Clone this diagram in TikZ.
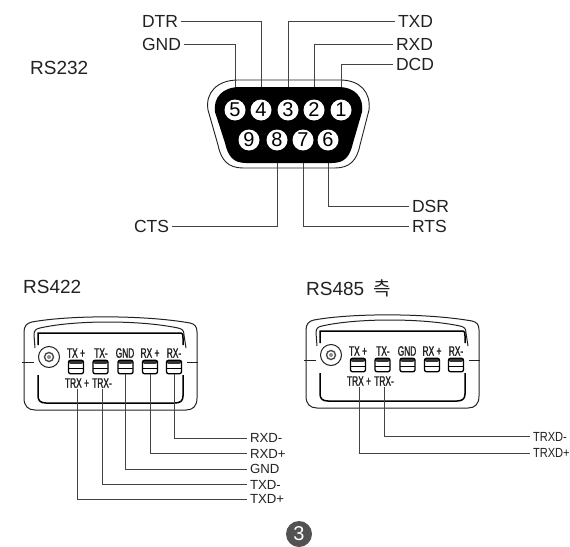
\documentclass[tikz,border=0pt]{standalone}
\usepackage{graphicx}
\usepackage{fontspec}
\setmainfont{Liberation Sans}
\newfontfamily\cjkf{Noto Sans CJK KR}
\newfontfamily\narrowf[FakeStretch=0.62,FakeBold=1.5]{Liberation Sans}
\pgfdeclarelayer{background}
\pgfsetlayers{background,main}
\definecolor{ink}{HTML}{222222}
\tikzset{
  x=1pt,y=-1pt,
  wire/.style={draw=ink!85!white,line width=0.9pt},
  shell/.style={draw=ink,line width=1pt,line join=round},
  thick shell/.style={draw=black,line width=1.5pt},
  lab/.style={font=\fontsize{17.5}{19}\selectfont,text=ink,inner sep=0pt,outer sep=3pt},
  title/.style={font=\fontsize{19}{21}\selectfont,text=ink,inner sep=0pt,anchor=west},
  small/.style={font=\fontsize{13.2}{15}\selectfont,text=ink,inner sep=0pt,outer sep=3pt,anchor=west},
  pin/.style={circle,fill=white,draw=none,minimum size=21pt,inner sep=0pt,text=black,font=\fontsize{20}{21}\selectfont},
  termlab/.style={font=\narrowf\fontsize{13.5}{15}\selectfont,text=ink,inner sep=0pt,outer sep=1pt},
  term/.style={draw=black,line width=1.3pt,fill=white,rounded corners=2pt,minimum width=15pt,minimum height=13.5pt,inner sep=0pt,
    path picture={\fill[black!80] (path picture bounding box.north west) rectangle ([yshift=-3.5pt]path picture bounding box.north east);
    \draw[black,line width=.8pt] ([yshift=-8.5pt]path picture bounding box.north west) -- ([yshift=-8.5pt]path picture bounding box.north east);}},
  badge/.style={circle,fill=black!68,text=white,minimum size=26pt,inner sep=0pt,font=\fontsize{20}{22}\selectfont},
  device/.pic={
    \draw[shell] (24,332) .. controls (24,326) and (27,323) .. (32,322) .. controls (70,315) and (145,315) .. (190,323) .. controls (195,324) and (197,327) .. (197,332)
      -- (197,398) .. controls (197,406) and (193,410) .. (186,410) -- (35,410) .. controls (28,410) and (24,406) .. (24,398) -- cycle;
    \draw[shell] (35,348) -- (34,335) .. controls (34,330) and (36,329) .. (40,328) .. controls (75,320) and (140,320) .. (178,328) .. controls (182,329) and (184,330) .. (184,335) -- (186,348);
    \draw[thick shell] (38,345) -- (38,336) -- (38,333) -- (181,333) .. controls (183,333) and (183,335) .. (183,338) -- (183,345);
    \draw[thick shell] (38,375) -- (38,396) .. controls (38,401) and (41,403) .. (46,403) -- (175,403) .. controls (180,403) and (183,401) .. (183,396) -- (183,375);
    \draw[shell] (22,362) -- (34,362);
    \draw[shell] (187,362) -- (198,362);
    \draw[shell] (49,357) circle[radius=10.5];
    \draw[black!70,line width=1.4pt] (49,357) circle[radius=4.5];
    \fill[black!45] (49,357) circle[radius=2];
    \node[term] (-t1) at (76,367) {};
    \node[term] (-t2) at (100.5,367) {};
    \node[term] (-t3) at (125.5,367) {};
    \node[term] (-t4) at (150,367) {};
    \node[term] (-t5) at (174,367) {};
    \node[termlab] (-l1) at (76,353) {TX$\,$+};
    \node[termlab] (-l2) at (101,353) {TX-};
    \node[termlab] (-l3) at (125,353) {GND};
    \node[termlab] (-l4) at (150,353) {RX$\,$+};
    \node[termlab] (-l5) at (174,353) {RX-};
    \node[termlab] (-r1) at (77,383) {TRX$\,$+};
    \node[termlab] (-r2) at (102,383) {TRX-};
  }
}
\begin{document}
\begin{tikzpicture}
\useasboundingbox (0,0) rectangle (570,546);
% --- RS232 connector
\begin{pgfonlayer}{background}
\fill[white] (0,0) rectangle (570,546);
\draw[shell,line width=.9pt] (238,80) -- (340,80) .. controls (360,80) and (371,92) .. (369,110) -- (360,145) .. controls (357,160) and (350,168) .. (335,168) -- (243,168) .. controls (228,168) and (221,160) .. (218,145) -- (208,110) .. controls (205,92) and (218,80) .. (238,80) -- cycle;
\end{pgfonlayer}
\fill[black] (240,87) -- (338,87) .. controls (355,87) and (364,97) .. (362,112) -- (353,143) .. controls (350,156) and (345,163) .. (332,163) -- (246,163) .. controls (233,163) and (228,156) .. (225,143) -- (215,112) .. controls (213,97) and (223,87) .. (240,87) -- cycle;
\node[pin] (p5) at (235,110) {5};
\node[pin] (p4) at (261,110) {4};
\node[pin] (p3) at (288,110) {3};
\node[pin] (p2) at (314,110) {2};
\node[pin] (p1) at (341,110) {1};
\node[pin] (p9) at (249,140) {9};
\node[pin] (p8) at (277,140) {8};
\node[pin] (p7) at (303,140) {7};
\node[pin] (p6) at (328,140) {6};
\node[title] (t232) at (30,68) {RS232};
\node[lab,anchor=west] (dtr) at (139,21) {DTR};
\node[lab,anchor=west] (gnd) at (139,44) {GND};
\node[lab,anchor=west] (txd) at (395,21) {TXD};
\node[lab,anchor=west] (rxd) at (393,44) {RXD};
\node[lab,anchor=west] (dcd) at (393,64) {DCD};
\node[lab,anchor=west] (dsr) at (409,206) {DSR};
\node[lab,anchor=west] (rts) at (409,226) {RTS};
\node[lab,anchor=west] (cts) at (131,226) {CTS};
\begin{pgfonlayer}{background}
\draw[wire] (dtr.east) -| (p4.north);
\draw[wire] (gnd.east) -| (p5.north);
\draw[wire] (txd.west) -| (p3.north);
\draw[wire] (rxd.west) -| (p2.north);
\draw[wire] (dcd.west) -| (p1.north);
\draw[wire] (cts.east) -| (p8.south);
\draw[wire] (rts.west) -| (p7.south);
\draw[wire] (dsr.west) -| (p6.south);
\end{pgfonlayer}
% --- RS422
\node[title] (t422) at (23,287) {RS422};
\pic (L) at (0,0) {device};
\node[small] (a1) at (247,438) {RXD-};
\node[small] (a2) at (247,453.5) {RXD+};
\node[small] (a3) at (247,469) {GND};
\node[small] (a4) at (247,484.5) {TXD-};
\node[small] (a5) at (247,499) {TXD+};
\draw[wire] (L-t5.south) |- (a1.west);
\draw[wire] (L-t4.south) |- (a2.west);
\draw[wire] (L-t3.south) |- (a3.west);
\draw[wire] (L-r2.south) |- (a4.west);
\draw[wire] (L-r1.south) |- (a5.west);
% --- RS485
\node[title] (t485) at (306,288) {RS485\hspace{9pt}{\cjkf 측}};
\pic (R) at (282,-2) {device};
\node[small] (b1) at (530,436.5) {\scalebox{0.84}[1]{TRXD-}};
\node[small] (b2) at (530,453) {\scalebox{0.84}[1]{TRXD+}};
\draw[wire] (R-r2.south) |- (b1.west);
\draw[wire] (R-r1.south) |- (b2.west);
% --- page badge
\node[badge] (page) at (299,534) {3};
\end{tikzpicture}
\end{document}
